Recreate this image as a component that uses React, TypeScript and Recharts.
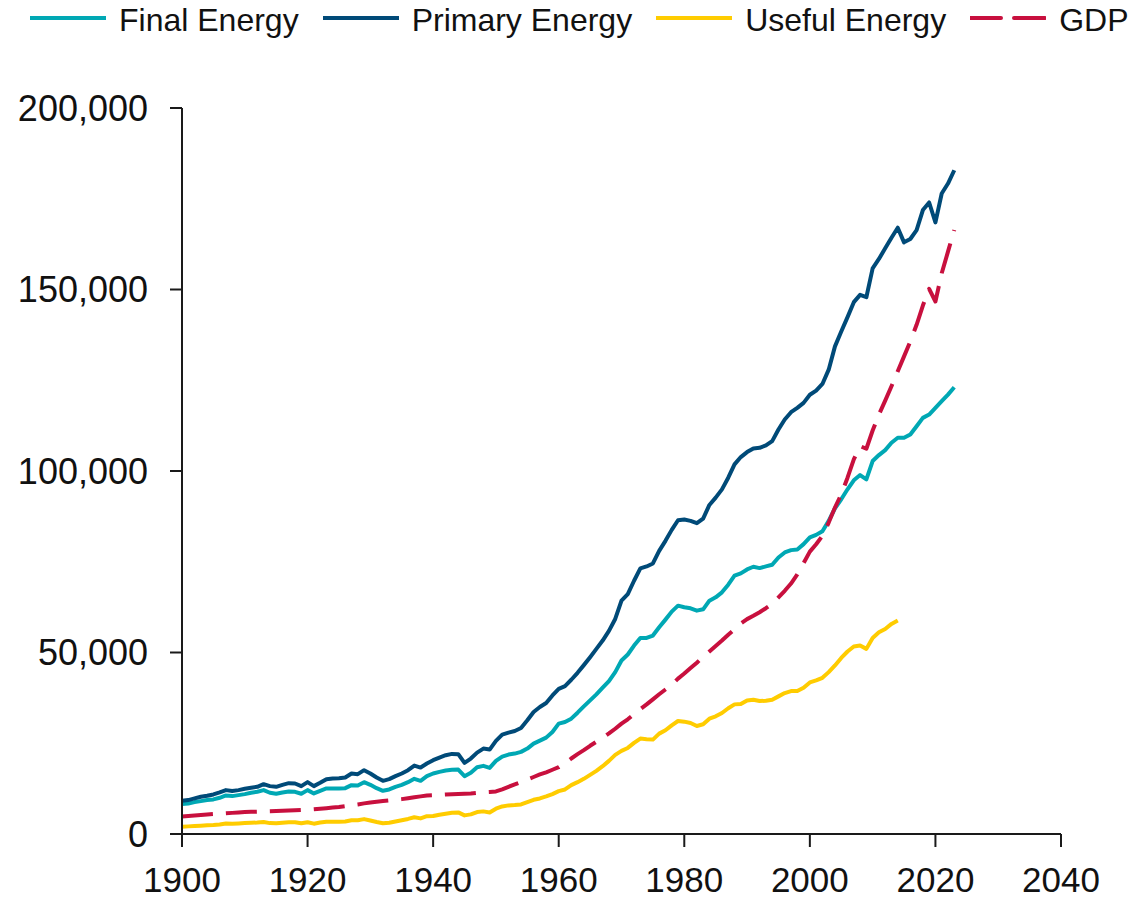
import { LineChart, Line, XAxis, YAxis } from 'recharts'

// yearly values 1900..2023 (useful energy stops in 2014)
const firstYear = 1900

const finalEnergy = [
  8240, 8420, 8790, 9060, 9340, 9520, 9980, 10620, 10440, 10710,
  10990, 11360, 11630, 12090, 11360, 11080, 11450, 11720, 11630, 11080,
  12090, 11170, 11900, 12540, 12540, 12540, 12630, 13460, 13370, 14280,
  13550, 12630, 11900, 12270, 13000, 13550, 14280, 15200, 14650, 15930,
  16660, 17120, 17490, 17670, 17760, 15930, 16850, 18400, 18770, 18220,
  20150, 21340, 21880, 22160, 22620, 23530, 24910, 25730, 26550, 28110,
  30400, 30850, 31770, 33420, 35160, 36810, 38460, 40290, 42120, 44590,
  47800, 49450, 51920, 54020, 54020, 54670, 56950, 59060, 61260, 62910,
  62450, 62170, 61530, 61900, 64280, 65200, 66570, 68680, 71150, 71790,
  72880, 73620, 73250, 73710, 74170, 76180, 77560, 78200, 78380, 79850,
  81700, 82410, 83420, 86260, 89740, 92210, 94960, 97440, 98890, 97700,
  102740, 104390, 105760, 107780, 109150, 109150, 110060, 112350, 114640, 115550,
  117390, 119220, 121050, 123070,
]

const primaryEnergy = [
  9150, 9340, 9800, 10250, 10530, 10900, 11450, 12090, 11820, 12090,
  12450, 12730, 13000, 13730, 13190, 13000, 13550, 14000, 13920, 13190,
  14290, 13190, 14100, 15110, 15290, 15380, 15560, 16670, 16480, 17580,
  16670, 15560, 14650, 15110, 15930, 16670, 17580, 18860, 18310, 19410,
  20330, 21060, 21700, 22070, 22000, 19590, 20780, 22430, 23530, 23260,
  25640, 27380, 27930, 28390, 29210, 31320, 33610, 34980, 36080, 38180,
  40000, 40750, 42490, 44410, 46520, 48720, 51000, 53290, 55940, 59240,
  64280, 66110, 69770, 73160, 73710, 74530, 78010, 80760, 83780, 86440,
  86620, 86260, 85620, 86900, 90650, 92660, 94950, 98160, 101820, 103840,
  105210, 106220, 106400, 107040, 108230, 111430, 114180, 116200, 117390, 118770,
  121000, 122150, 123980, 127920, 134330, 138450, 142390, 146510, 148520, 147870,
  155840, 158410, 161340, 164270, 167020, 162990, 163910, 166380, 171880, 173970,
  168480, 176440, 179190, 182850,
]

const usefulEnergy = [
  2010, 2100, 2200, 2290, 2380, 2470, 2600, 2900, 2800, 2900,
  3000, 3100, 3150, 3300, 3000, 2950, 3100, 3250, 3250, 2950,
  3250, 2850, 3150, 3400, 3400, 3400, 3450, 3800, 3800, 4100,
  3700, 3300, 2950, 3100, 3450, 3800, 4150, 4600, 4300, 4900,
  4940, 5310, 5590, 5860, 5950, 5130, 5400, 6040, 6230, 5950,
  6960, 7600, 7880, 7970, 8150, 8790, 9430, 9800, 10350, 10990,
  11800, 12270, 13460, 14280, 15200, 16300, 17400, 18680, 20150, 21800,
  22890, 23710, 25090, 26280, 26100, 26010, 27650, 28570, 29940, 31130,
  30950, 30580, 29760, 30220, 31770, 32410, 33330, 34650, 35710, 35800,
  36800, 36990, 36620, 36710, 36990, 37910, 38820, 39370, 39370, 40290,
  41750, 42300, 43030, 44590, 46420, 48500, 50270, 51640, 51920, 51000,
  54020, 55580, 56490, 57870, 58790,
]

const gdp = [
  4850, 4980, 5100, 5230, 5360, 5490, 5600, 5710, 5820, 5930,
  6040, 6100, 6150, 6210, 6260, 6320, 6400, 6470, 6540, 6620,
  6690, 6830, 6980, 7120, 7270, 7420, 7660, 7910, 8150, 8430,
  8700, 8880, 9060, 9250, 9430, 9610, 9860, 10110, 10370, 10620,
  10700, 10800, 10900, 10970, 11030, 11100, 11170, 11330, 11500, 11600,
  11720, 12300, 13000, 13640, 14300, 15020, 15700, 16400, 17000, 17700,
  18400, 19500, 20800, 22000, 23100, 24300, 25400, 26500, 27700, 29000,
  30400, 31600, 33000, 34400, 35700, 37100, 38500, 39800, 41100, 42800,
  44200, 45700, 47200, 48800, 50300, 51800, 53300, 54900, 56400, 58000,
  59200, 60100, 61100, 62200, 63400, 65200, 67000, 69000, 71500, 74600,
  77800, 79840, 82140, 85800, 89920, 93580, 98160, 103200, 106860, 106130,
  111160, 115550, 119400, 123340, 127460, 131580, 135700, 140280, 145590, 150170,
  146690, 154480, 160420, 166400,
]

const xTicks = [1900, 1920, 1940, 1960, 1980, 2000, 2020, 2040]
const yTicks = [0, 50000, 100000, 150000, 200000]

const series = [
  { key: 'final', name: 'Final Energy', color: '#00A8B4', dash: undefined },
  { key: 'primary', name: 'Primary Energy', color: '#004A78', dash: undefined },
  { key: 'useful', name: 'Useful Energy', color: '#FFCC00', dash: undefined },
  { key: 'gdp', name: 'GDP', color: '#C8103E', dash: '31 13' },
]

const data = finalEnergy.map((v, i) => ({
  year: firstYear + i,
  final: v,
  primary: primaryEnergy[i],
  useful: usefulEnergy[i],
  gdp: gdp[i],
}))

const font = "'Liberation Sans', Arial, sans-serif"
const axisColor = '#1a1a1a'

function TopLegend() {
  return (
    <div
      style={{
        position: 'absolute',
        top: 0,
        left: 30,
        height: 40,
        display: 'flex',
        alignItems: 'center',
        gap: 24,
        fontFamily: font,
        fontSize: 32,
        color: '#111',
        whiteSpace: 'nowrap',
      }}
    >
      {series.map((s) => (
        <div key={s.key} style={{ display: 'flex', alignItems: 'center', gap: 13 }}>
          <svg width={76} height={10} style={{ marginTop: -4 }}>
            <line
              x1={0}
              y1={5}
              x2={76}
              y2={5}
              stroke={s.color}
              strokeWidth={4}
              strokeDasharray={s.dash}
              strokeLinecap="round"
            />
          </svg>
          <span>{s.name}</span>
        </div>
      ))}
    </div>
  )
}

export default function App() {
  return (
    <div style={{ position: 'absolute', left: 0, top: 0, width: 1132, height: 900, background: '#fff' }}>
      <TopLegend />
      <LineChart width={1132} height={900} data={data} margin={{ top: 108, right: 71, left: 0, bottom: 0 }}>
        <XAxis
          dataKey="year"
          type="number"
          domain={[1900, 2040]}
          ticks={xTicks}
          height={66}
          axisLine={{ stroke: axisColor, strokeWidth: 2 }}
          tickLine={{ stroke: axisColor, strokeWidth: 2 }}
          tickSize={13}
          tickMargin={20}
          tick={{ fontSize: 35, fill: '#111', fontFamily: font }}
          interval={0}
        />
        <YAxis
          domain={[0, 200000]}
          ticks={yTicks}
          width={182}
          axisLine={{ stroke: axisColor, strokeWidth: 2 }}
          tickLine={{ stroke: axisColor, strokeWidth: 2 }}
          tickSize={12}
          tickMargin={22}
          tick={{ fontSize: 36, fill: '#111', fontFamily: font }}
          tickFormatter={(v: number) => v.toLocaleString('en-US')}
          interval={0}
        />
        {series.map((s) => (
          <Line
            key={s.key}
            type="linear"
            dataKey={s.key}
            name={s.name}
            stroke={s.color}
            strokeWidth={4}
            strokeDasharray={s.dash}
            strokeLinejoin="round"
            dot={false}
            activeDot={false}
            isAnimationActive={false}
          />
        ))}
      </LineChart>
    </div>
  )
}
